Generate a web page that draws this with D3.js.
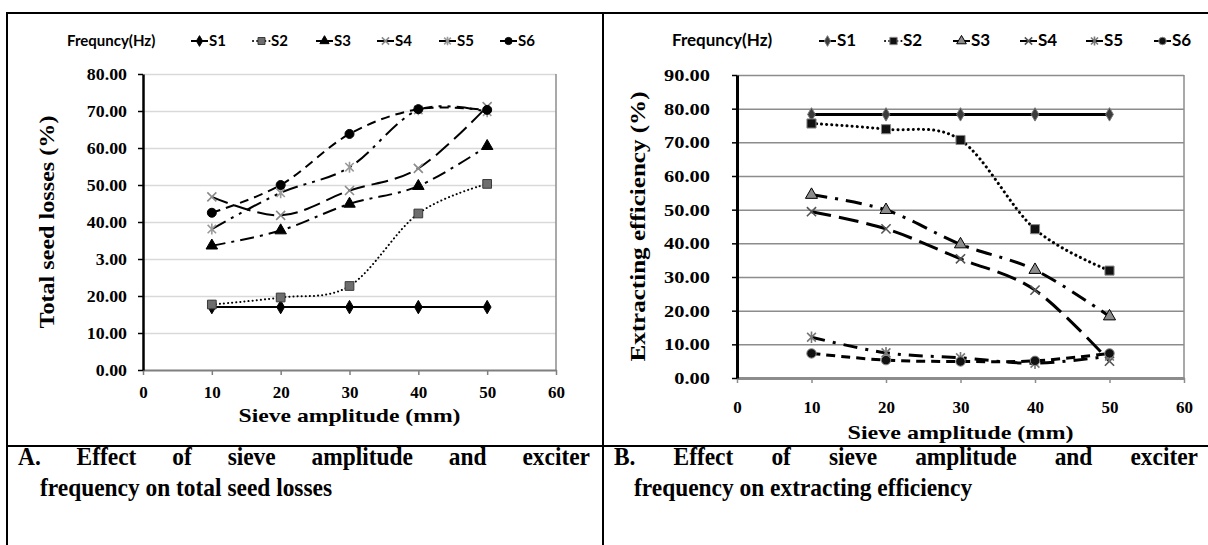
<!DOCTYPE html>
<html>
<head>
<meta charset="utf-8">
<script src="https://cdn.jsdelivr.net/npm/d3@7"></script>
<style>
  body { margin: 0; background: #fff; }
  svg { display: block; }
</style>
</head>
<body>
<svg id="figure" width="1208" height="545"></svg>
<script>
// sieve amplitude (mm)
const amplitudes = [10, 20, 30, 40, 50];
const seriesNames = ["S1", "S2", "S3", "S4", "S5", "S6"];

// A. total seed losses (%)
const lossS1 = [17.0, 17.0, 17.0, 17.0, 17.0];
const lossS2 = [17.7, 19.6, 22.7, 42.3, 50.3];
const lossS3 = [33.6, 37.7, 44.9, 49.7, 60.5];
const lossS4 = [46.8, 41.8, 48.5, 54.5, 71.2];
const lossS5 = [38.1, 47.9, 54.8, 70.3, 69.8];
const lossS6 = [42.5, 50.0, 63.8, 70.5, 70.3];

// B. extracting efficiency (%)
const effS1 = [78.3, 78.3, 78.3, 78.3, 78.3];
const effS2 = [75.6, 73.9, 70.7, 44.2, 31.9];
const effS3 = [54.4, 49.9, 39.7, 32.1, 18.3];
const effS4 = [49.4, 44.3, 35.4, 26.1, 5.0];
const effS5 = [12.1, 7.5, 6.0, 4.4, 6.5];
const effS6 = [7.3, 5.3, 4.9, 5.1, 7.3];

// tick labels as printed in the figure
const xTicks = [0, 10, 20, 30, 40, 50, 60];
const lossTicks = [0, 10, 20, 30, 40, 50, 60, 70, 80];
const lossTickLabels = ["0.00", "10.00", "20.00", "3.00", "40.00", "50.00", "60.00", "70.00", "80.00"];
const effTicks = [0, 10, 20, 30, 40, 50, 60, 70, 80, 90];
const effTickLabels = ["0.00", "10.00", "20.00", "30.00", "40.00", "50.00", "60.00", "70.00", "80.00", "90.00"];

const serif = "'Liberation Serif', 'Times New Roman', serif";
const sans = "Lato, 'Open Sans', sans-serif";

const svg = d3.select("#figure");

//table frame round the two panels
const frame = svg.append("g").attr("stroke", "#000").attr("stroke-width", 2);
frame.append("line").attr("x1", 7).attr("x2", 1208).attr("y1", 13).attr("y2", 13);
frame.append("line").attr("x1", 7).attr("x2", 7).attr("y1", 12).attr("y2", 545);
frame.append("line").attr("x1", 603).attr("x2", 603).attr("y1", 12).attr("y2", 545);
frame.append("line").attr("x1", 7).attr("x2", 1208).attr("y1", 446).attr("y2", 446);

//widen or squeeze text, the figure was resized unevenly
function stretch(sel, factor) {
  sel.each(function() {
    const w = this.getComputedTextLength();
    d3.select(this).attr("textLength", w * factor).attr("lengthAdjust", "spacingAndGlyphs");
  });
}

//marker shapes
function markerPath(kind, r) {
  if (kind === "x") return `M${-r},${-r}L${r},${r}M${-r},${r}L${r},${-r}`;
  if (kind === "star") return `M${-r},${-r}L${r},${r}M${-r},${r}L${r},${-r}M0,${-r * 1.3}L0,${r * 1.3}`;
  const types = { diamond: d3.symbolDiamond, square: d3.symbolSquare, triangle: d3.symbolTriangle, circle: d3.symbolCircle };
  return d3.symbol().type(types[kind]).size(r * r * 3.6)();
}

function drawMarker(g, st, x, y) {
  const open = st.marker === "x" || st.marker === "star";
  g.append("path")
    .attr("d", markerPath(st.marker, st.r))
    .attr("transform", `translate(${x},${y})`)
    .attr("fill", open ? "none" : st.fill)
    .attr("stroke", st.mstroke)
    .attr("stroke-width", open ? 1.6 : 1);
}

//chart generator
function drawChart(props) {
  const { left, right, top, bottom, yMax, yTicks, yLabels, series, styles, lineWidth } = props;
  const g = svg.append("g");

  const x = d3.scaleLinear().domain([0, 60]).range([left, right]);
  const y = d3.scaleLinear().domain([0, yMax]).range([bottom, top]);

  //horizontal gridlines
  g.append("g")
    .attr("transform", `translate(${left},0)`)
    .call(d3.axisLeft(y).tickValues(yTicks.slice(1)).tickSize(-(right - left)).tickFormat(""))
    .call(s => s.select(".domain").remove())
    .call(s => s.selectAll("line").attr("stroke", props.gridColor).attr("stroke-width", 1.5));

  //right border of the plot
  g.append("line")
    .attr("x1", right).attr("x2", right).attr("y1", top).attr("y2", bottom)
    .attr("stroke", props.borderColor).attr("stroke-width", 1.5);

  //x axis
  g.append("g")
    .attr("transform", `translate(0,${bottom})`)
    .call(d3.axisBottom(x).tickValues(xTicks).tickSize(5).tickPadding(props.xPad).tickSizeOuter(0))
    .call(s => s.select(".domain").attr("stroke", props.xAxisColor).attr("stroke-width", props.xAxisWidth))
    .call(s => s.selectAll("line").attr("stroke", props.xAxisColor).attr("stroke-width", 1.5))
    .call(s => s.selectAll("text").attr("fill", "#000").attr("font-family", serif)
      .attr("font-weight", "bold").attr("font-size", 17));

  //y axis
  g.append("g")
    .attr("transform", `translate(${left},0)`)
    .call(d3.axisLeft(y).tickValues(yTicks).tickSize(5).tickSizeOuter(0).tickPadding(props.yPad)
      .tickFormat((d, i) => yLabels[i]))
    .call(s => s.select(".domain").attr("stroke", "#000").attr("stroke-width", props.yAxisWidth))
    .call(s => s.selectAll("line").attr("stroke", "#000").attr("stroke-width", 1.5))
    .call(s => s.selectAll("text").attr("fill", "#000").attr("font-family", serif)
      .attr("font-weight", "bold").attr("font-size", 17).call(stretch, props.yLabelStretch));

  //smoothed series lines
  const line = d3.line()
    .x((d, i) => x(amplitudes[i]))
    .y(d => y(d))
    .curve(d3.curveCardinal.tension(0));

  series.forEach((vals, k) => {
    const st = styles[k];
    g.append("path")
      .datum(vals)
      .attr("d", line)
      .attr("fill", "none")
      .attr("stroke", "#000")
      .attr("stroke-width", lineWidth)
      .attr("stroke-linecap", st.cap || "butt")
      .attr("stroke-dasharray", st.dash);
  });
  series.forEach((vals, k) => {
    vals.forEach((v, i) => drawMarker(g, styles[k], x(amplitudes[i]), y(v)));
  });

  //axis titles
  g.append("text")
    .attr("x", (left + right) / 2)
    .attr("y", props.xTitleY)
    .attr("text-anchor", "middle")
    .attr("font-family", serif)
    .attr("font-weight", "bold")
    .attr("font-size", 19)
    .attr("textLength", props.xTitleLen)
    .attr("lengthAdjust", "spacingAndGlyphs")
    .text("Sieve amplitude (mm)");

  g.append("text")
    .attr("transform", `translate(${props.yTitleX},${(top + bottom) / 2}) rotate(-90)`)
    .attr("text-anchor", "middle")
    .attr("font-family", serif)
    .attr("font-weight", "bold")
    .attr("font-size", props.yTitleSize)
    .attr("textLength", props.yTitleLen)
    .attr("lengthAdjust", "spacingAndGlyphs")
    .text(props.yTitle);

  //legend
  const lg = g.append("g");
  lg.append("text")
    .attr("x", props.legendTitleX).attr("y", 46)
    .attr("font-family", sans).attr("font-weight", "bold").attr("font-size", props.legendSize)
    .text("Frequncy(Hz)");
  seriesNames.forEach((name, k) => {
    const st = styles[k];
    const lx = props.legendX[k];
    lg.append("line")
      .attr("x1", lx).attr("x2", lx + 17).attr("y1", 41).attr("y2", 41)
      .attr("stroke", "#000").attr("stroke-width", 2)
      .attr("stroke-linecap", st.cap || "butt")
      .attr("stroke-dasharray", st.legendDash || null);
    drawMarker(lg, Object.assign({}, st, { r: st.r * 0.8 }), lx + 8.5, 41);
    lg.append("text")
      .attr("x", lx + 18).attr("y", 46)
      .attr("font-family", sans).attr("font-weight", "bold").attr("font-size", props.legendSize)
      .text(name);
  });
}

//panel A styles
const lossStyles = [
  { marker: "diamond", fill: "#000", mstroke: "#000", r: 3.8, dash: null },
  { marker: "square", fill: "#6e6e6e", mstroke: "#3a3a3a", r: 4.6, dash: "0.1,4", cap: "round", legendDash: "0.1,4" },
  { marker: "triangle", fill: "#000", mstroke: "#000", r: 4.0, dash: "14,6,3,6" },
  { marker: "x", fill: "none", mstroke: "#8a8a8a", r: 4.5, dash: "17,7" },
  { marker: "star", fill: "none", mstroke: "#9a9a9a", r: 4.2, dash: "16,6,3,6,3,6" },
  { marker: "circle", fill: "#000", mstroke: "#000", r: 4.2, dash: "9,6" }
];

//panel B styles
const effStyles = [
  { marker: "diamond", fill: "#3c3c3c", mstroke: "#777", r: 3.8, dash: null },
  { marker: "square", fill: "#111", mstroke: "#888", r: 4.8, dash: "0.1,5", cap: "round", legendDash: "0.1,4" },
  { marker: "triangle", fill: "#8c8c8c", mstroke: "#000", r: 4.2, dash: "16,8,3,8" },
  { marker: "x", fill: "none", mstroke: "#555", r: 4.6, dash: "20,8" },
  { marker: "star", fill: "none", mstroke: "#777", r: 4.4, dash: "14,8,3,8" },
  { marker: "circle", fill: "#111", mstroke: "#888", r: 4.4, dash: "9,6" }
];

drawChart({
  left: 143, right: 556, top: 74, bottom: 370,
  yMax: 80, yTicks: lossTicks, yLabels: lossTickLabels,
  series: [lossS1, lossS2, lossS3, lossS4, lossS5, lossS6],
  styles: lossStyles, lineWidth: 2,
  gridColor: "#d9d9d9", borderColor: "#8c8c8c", xAxisColor: "#7f7f7f", xAxisWidth: 2, yAxisWidth: 2.5,
  xPad: 11, yPad: 11, yLabelStretch: 1.05,
  xTitleY: 422, xTitleLen: 222,
  yTitle: "Total seed losses  (%)", yTitleX: 54, yTitleSize: 21, yTitleLen: 213,
  legendTitleX: 67, legendSize: 15, legendX: [191, 253, 316, 377, 439, 500]
});

drawChart({
  left: 737, right: 1184, top: 75, bottom: 378,
  yMax: 90, yTicks: effTicks, yLabels: effTickLabels,
  series: [effS1, effS2, effS3, effS4, effS5, effS6],
  styles: effStyles, lineWidth: 3,
  gridColor: "#8c8c8c", borderColor: "#8c8c8c", xAxisColor: "#8c8c8c", xAxisWidth: 3, yAxisWidth: 3,
  xPad: 18, yPad: 22, yLabelStretch: 1.2,
  xTitleY: 439, xTitleLen: 226,
  yTitle: "Extracting efficiency (%)", yTitleX: 645, yTitleSize: 22, yTitleLen: 270,
  legendTitleX: 672, legendSize: 17, legendX: [819, 885, 953, 1020, 1086, 1154]
});

//captions below the panels, first line justified
function caption(words, x0, x1, y1, line2, x2) {
  const g = svg.append("g")
    .attr("font-family", serif).attr("font-weight", "bold").attr("font-size", 26);
  const texts = words.map(w => g.append("text").attr("y", y1).text(w));
  const widths = texts.map(t => t.node().getComputedTextLength() * 0.9);
  texts.forEach((t, i) => t.attr("textLength", widths[i]).attr("lengthAdjust", "spacingAndGlyphs"));
  const gap = (x1 - x0 - d3.sum(widths)) / (words.length - 1);
  let cx = x0;
  texts.forEach((t, i) => { t.attr("x", cx); cx += widths[i] + gap; });
  g.append("text").attr("x", x2).attr("y", y1 + 31).text(line2).call(stretch, 0.9);
}

caption(["A.", "Effect", "of", "sieve", "amplitude", "and", "exciter"], 18, 590, 465,
  "frequency on total seed losses", 40);
caption(["B.", "Effect", "of", "sieve", "amplitude", "and", "exciter"], 614, 1198, 465,
  "frequency on extracting efficiency", 634);
</script>
</body>
</html>
